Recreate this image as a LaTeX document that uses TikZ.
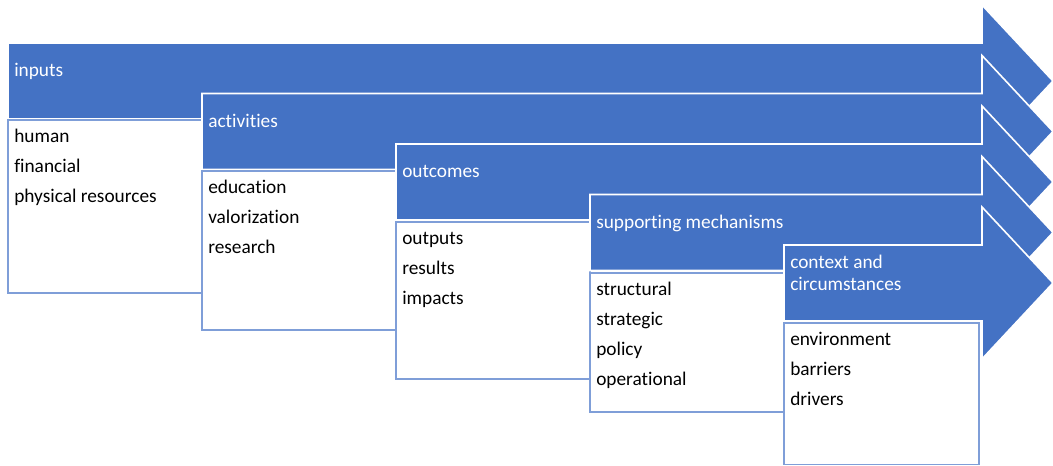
\documentclass[tikz,border=0pt]{standalone}
\usepackage{fontspec}
\setmainfont{Carlito}[Ligatures=NoCommon]
\definecolor{ablue}{HTML}{4472C4}
\definecolor{bline}{HTML}{7F9ED8}
\begin{document}
\begin{tikzpicture}[x=0.75pt,y=-0.75pt,
 arr/.style={fill=ablue,draw=white,line width=1.2pt,line join=miter},
 itembox/.style={fill=white,draw=bline,line width=1.1pt},
 lab/.style={anchor=base west,inner sep=0pt,text=white,font=\fontsize{14.5}{17}\selectfont},
 item/.style={anchor=base west,inner sep=0pt,text=black,font=\fontsize{14.5}{17}\selectfont}]
\useasboundingbox (0,0) rectangle (1053,466);

% arrow 1
\draw[arr] (8,43) -- (982,43) -- (982,5) -- (1053,81) -- (982,157) -- (982,119) -- (8,119) -- cycle;
\node[lab] (l1) at (14,77) {inputs};
\draw[itembox] (8,120) rectangle (202,293);
\node[item] (i11) at (14,143) {human};
\node[item] (i12) at (14,173) {financial};
\node[item] (i13) at (14,203) {physical resources};

% arrow 2
\draw[arr] (202,93.5) -- (982,93.5) -- (982,55.5) -- (1053,131.5) -- (982,207.5) -- (982,169.5) -- (202,169.5) -- cycle;
\node[lab] (l2) at (208,127.5) {activities};
\draw[itembox] (202,171) rectangle (396,330);
\node[item] (i21) at (208,194) {education};
\node[item] (i22) at (208,224) {valorization};
\node[item] (i23) at (208,254) {research};

% arrow 3
\draw[arr] (396,144) -- (982,144) -- (982,106) -- (1053,182) -- (982,258) -- (982,220) -- (396,220) -- cycle;
\node[lab] (l3) at (402,178) {outcomes};
\draw[itembox] (396,222) rectangle (590,379);
\node[item] (i31) at (402,245) {outputs};
\node[item] (i32) at (402,275) {results};
\node[item] (i33) at (402,305) {impacts};

% arrow 4
\draw[arr] (590,194.5) -- (982,194.5) -- (982,156.5) -- (1053,232.5) -- (982,308.5) -- (982,270.5) -- (590,270.5) -- cycle;
\node[lab] (l4) at (596,228.5) {supporting mechanisms};
\draw[itembox] (590,273) rectangle (784,412);
\node[item] (i41) at (596,296) {structural};
\node[item] (i42) at (596,326) {strategic};
\node[item] (i43) at (596,356) {policy};
\node[item] (i44) at (596,386) {operational};

% arrow 5
\draw[arr] (784,245) -- (982,245) -- (982,207) -- (1053,283) -- (982,359) -- (982,321) -- (784,321) -- cycle;
\node[lab] (l5a) at (790,269) {context and};
\node[lab] (l5b) at (790,291) {circumstances};
\draw[itembox] (784,323) rectangle (979,464.5);
\node[item] (i51) at (790,346) {environment};
\node[item] (i52) at (790,376) {barriers};
\node[item] (i53) at (790,406) {drivers};
\end{tikzpicture}
\end{document}
